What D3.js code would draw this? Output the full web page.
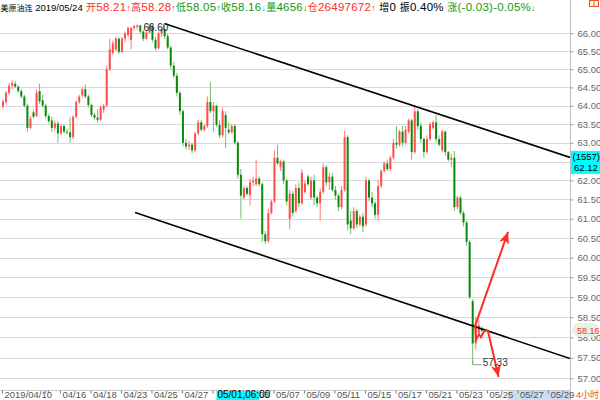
<!DOCTYPE html>
<html><head><meta charset="utf-8">
<script src="https://cdn.jsdelivr.net/npm/d3@7"></script>
<style>
body{margin:0;background:#fff;}
svg{display:block;}
.nar{font-family:"Liberation Sans Narrow","Arial Narrow","Liberation Sans",Arial,"Noto Sans CJK SC",sans-serif;}
.hdr{font-family:"Liberation Sans",Arial,sans-serif;}
.hdr .cjk{font-family:"Noto Sans CJK SC",sans-serif;}
</style></head><body>
<svg id="c" width="600" height="400"></svg>
<script>
// ---- data ----
const opens=[63.98,64.10,64.35,64.55,64.60,64.52,64.40,64.25,64.00,63.40,63.82,63.72,64.40,64.15,64.00,63.72,63.60,63.40,63.52,63.25,
63.45,63.30,63.28,63.15,63.70,64.10,64.28,64.45,64.25,64.02,63.75,63.68,63.62,63.90,64.00,65.00,65.45,65.55,65.85,65.48,
65.85,65.95,65.82,66.15,66.18,66.22,66.05,65.85,66.02,66.22,65.82,65.58,66.00,66.12,65.92,65.60,65.10,64.82,64.35,63.85,
63.00,62.90,62.95,62.80,63.25,63.55,63.35,63.45,64.10,63.85,64.00,63.48,63.20,63.75,63.35,63.28,63.45,63.00,62.15,61.55,
61.80,61.62,61.95,61.90,62.05,61.90,60.60,60.42,61.15,61.45,62.60,62.35,62.50,62.00,61.00,61.65,61.20,61.80,61.40,61.70,
62.10,61.55,62.00,61.55,61.40,61.70,62.35,61.95,62.10,61.75,61.60,61.30,61.75,63.15,60.95,60.75,61.20,60.85,61.05,60.85,
62.00,61.55,61.40,61.10,61.85,62.25,62.45,62.30,62.60,63.00,62.95,63.30,63.00,63.30,63.60,62.75,63.85,63.45,63.10,62.75,
63.10,63.40,63.55,63.10,62.80,63.30,62.75,62.55,62.60,61.30,61.55,61.15,60.90,60.40,58.90,57.85,58.12,58.21];
const highs=[64.18,64.40,64.62,64.70,64.68,64.56,64.45,64.30,64.05,63.72,63.88,64.45,64.60,64.30,64.05,63.78,63.70,63.60,63.58,63.50,
63.48,63.38,63.70,63.75,64.15,64.30,64.50,64.58,64.30,64.06,63.80,63.90,64.00,64.05,65.10,65.85,65.80,65.90,65.88,65.90,
66.05,66.20,66.18,66.24,66.25,66.24,66.10,66.10,66.28,66.24,65.90,66.05,66.15,66.22,66.00,65.65,65.20,64.90,64.40,63.90,
63.10,63.05,63.00,63.30,63.62,63.62,63.50,64.25,64.65,64.10,64.02,63.60,63.95,63.85,63.55,63.50,63.50,63.05,62.30,61.85,
61.85,62.05,62.10,62.55,62.10,61.95,60.68,61.25,61.50,62.80,62.95,62.55,62.55,62.05,61.75,61.72,61.90,61.95,62.30,62.00,
62.15,62.10,62.15,61.60,61.80,62.45,62.40,62.20,62.20,61.85,61.65,61.85,63.32,63.20,61.20,61.30,61.25,61.10,61.15,62.10,
62.05,61.70,61.45,62.00,62.30,62.50,62.55,62.65,63.10,63.45,63.35,63.45,63.45,63.65,63.65,64.00,63.90,63.55,63.15,63.20,
63.55,63.60,63.75,63.20,63.35,63.32,62.78,62.70,62.78,61.60,61.60,61.20,60.95,60.45,58.95,58.50,58.42,58.28];
const lows=[63.92,64.02,64.30,64.45,64.48,64.35,64.20,63.95,63.30,63.36,63.66,63.70,64.05,63.95,63.65,63.52,63.28,63.32,63.00,63.20,
63.25,63.22,63.00,63.10,63.65,64.05,64.22,64.20,63.95,63.70,63.62,63.55,63.58,63.80,63.95,64.95,65.40,65.50,65.42,65.45,
65.75,65.90,65.55,66.08,66.10,65.98,65.78,65.82,66.00,65.75,65.52,65.55,65.90,65.85,65.55,65.00,64.75,64.25,63.75,62.90,
62.82,62.80,62.72,62.75,63.20,63.30,63.30,63.40,63.80,63.30,63.42,63.12,63.15,62.85,63.22,63.25,62.95,62.05,61.00,61.50,
61.60,61.35,61.85,61.85,61.85,60.40,60.35,60.38,61.10,61.40,62.40,62.25,61.90,61.35,60.72,61.05,61.15,61.30,61.35,61.65,
61.85,61.50,61.35,61.30,60.95,61.65,61.85,61.75,61.70,61.50,61.20,61.25,61.70,60.70,60.60,60.70,60.75,60.80,60.65,60.80,
61.45,61.30,61.00,60.95,61.80,62.20,62.25,62.25,62.55,62.85,62.90,62.90,62.95,63.25,62.55,62.70,63.35,63.00,62.60,62.70,
63.05,63.35,63.00,62.90,62.75,62.65,62.50,62.35,61.20,61.25,61.10,60.80,60.30,58.95,57.33,57.70,58.08,58.05];
const closes=[64.12,64.35,64.55,64.62,64.52,64.40,64.25,64.00,63.40,63.65,63.70,64.35,64.12,64.00,63.72,63.58,63.40,63.52,63.25,63.45,
63.30,63.28,63.15,63.70,64.10,64.25,64.45,64.25,64.02,63.75,63.68,63.62,63.95,64.00,65.00,65.55,65.72,65.85,65.48,65.85,
66.00,66.15,66.15,66.20,66.22,66.05,65.85,66.02,66.22,65.82,65.58,66.00,66.12,65.92,65.60,65.10,64.82,64.35,63.85,63.00,
62.90,62.95,62.80,63.25,63.55,63.35,63.45,64.10,63.85,64.00,63.48,63.20,63.85,63.40,63.28,63.45,63.00,62.15,61.60,61.80,
61.65,61.95,62.00,62.05,61.90,60.60,60.42,61.15,61.45,62.60,62.45,62.50,62.00,61.45,61.65,61.15,61.80,61.40,62.20,61.92,
61.90,62.00,61.55,61.40,61.70,62.35,61.95,62.10,61.75,61.60,61.30,61.75,63.15,60.85,60.75,61.20,60.85,61.05,60.80,62.00,
61.55,61.40,61.10,61.85,62.25,62.45,62.30,62.60,63.00,62.95,63.30,63.00,63.35,63.60,62.75,63.85,63.45,63.10,62.75,63.10,
63.50,63.55,63.10,62.95,63.30,62.75,62.55,62.60,61.30,61.55,61.15,60.90,60.40,59.00,57.85,58.30,58.30,58.16];
const yTicks=[57,57.5,58,58.5,59,59.5,60,60.5,61,61.5,62,62.5,63,63.5,64,64.5,65,65.5,66];
const xTickIdx=[0,14,15,19,29,39,49,59,69,79,89,99,109,119,129,139,149,159,169,179];
const xTickLabels=["2019/04/10","","","04/16","04/18","04/23","04/25","04/27","","05/03","05/07","05/09","05/11","05/15","05/17","05/21","05/23","05/25","05/27","05/29"];
const headerName="美原油连", headerDate="2019/05/24";
const headerItems=["开58.21↑","高58.28↑","低58.05↑","收58.16↓","量4656↓","仓26497672↑"," 增0"," 振0.40%"," 涨(-0.03)-0.05%↓"];
const headerDir=["up","up","down","down","down","up","flat","flat","down"];
const maxLabel="66.60";
const crossDate="05/01,06:00", crossIdx=69;
const crossValue="62.12", crossCount="(1557)";
const periodLabel="4小时";
const upperChannel=[[53.1,66.27],[185.9,62.61]];
const lowerChannel=[[43.3,61.16],[185.9,57.48]];
const zigzag=[[154.8,58.29],[155.1,57.94],[156.1,58.08],[156.7,58.00],[157.6,58.13],[158.9,58.19]];
const arrowUp=[[154.8,58.29],[165.6,60.66]];
const arrowDown=[[158.9,58.19],[162.5,57.03]];
const futureStartIdx=165;

// ---- layout ----
const W=600,H=400, plotRight=570, axisY=390.5, N=186;
const svg=d3.select("#c");
const x=d3.scaleLinear().domain([0,N]).range([3,3+N*3.05]);
const y=d3.scaleLog().domain([57,66]).range([378.3,33.3]);
const RED="#ff2a2a", GREEN="#0a8a0a";

svg.append("defs").append("clipPath").attr("id","pc").append("rect").attr("x",0).attr("y",14).attr("width",plotRight).attr("height",axisY-14);
svg.select("defs").append("marker").attr("id","ah").attr("viewBox","0 0 12 10").attr("markerUnits","userSpaceOnUse")
  .attr("markerWidth",15).attr("markerHeight",10).attr("refX",12).attr("refY",5).attr("orient","auto")
  .append("path").attr("d","M0,0 L12,5 L0,10 L3,5 Z").attr("fill",RED);

const main=svg.append("g").attr("class","nar");

// gridlines
main.append("g").selectAll("line").data(yTicks).join("line")
  .attr("x1",0).attr("x2",plotRight).attr("y1",d=>Math.round(y(d))+0.5).attr("y2",d=>Math.round(y(d))+0.5)
  .attr("stroke","#d9d9d9").attr("stroke-width",1.2);

// candles
const bars=d3.range(closes.length).map(i=>({i,o:opens[i],h:highs[i],l:lows[i],c:closes[i]}));
const cg=main.append("g").attr("clip-path","url(#pc)");
cg.selectAll("line.w").data(bars).join("line").attr("class","w")
  .attr("x1",d=>x(d.i)).attr("x2",d=>x(d.i)).attr("y1",d=>y(d.h)).attr("y2",d=>y(d.l))
  .attr("stroke",d=>d.c>=d.o?"#ff7a7a":"#6fbf6f").attr("stroke-width",1);
cg.selectAll("rect.b").data(bars).join("rect").attr("class","b")
  .attr("x",d=>x(d.i)-1).attr("width",2)
  .attr("y",d=>y(Math.max(d.o,d.c))).attr("height",d=>Math.max(1,Math.abs(y(d.o)-y(d.c))))
  .attr("fill",d=>d.c>=d.o?"#ff4d4d":GREEN);

// channel lines
const ln=d3.line().x(d=>x(d[0])).y(d=>y(d[1]));
[upperChannel,lowerChannel].forEach(p=>cg.append("path").attr("d",ln(p)).attr("fill","none").attr("stroke","#000").attr("stroke-width",1.6));

// red arrows
cg.append("path").attr("d",ln(zigzag)).attr("fill","none").attr("stroke",RED).attr("stroke-width",1.8);
[arrowUp,arrowDown].forEach(p=>main.append("path").attr("d",ln(p)).attr("fill","none").attr("stroke",RED).attr("stroke-width",2).attr("marker-end","url(#ah)"));

// max / min labels
const maxI=d3.maxIndex(highs), minI=d3.minIndex(lows);
main.append("text").attr("x",x(maxI)-6).attr("y",y(highs[maxI])+8).attr("font-size",10).attr("fill","#222").text(maxLabel);
main.append("path").attr("d",`M${x(minI)},${y(lows[minI])-4}V${y(lows[minI])}H${x(minI)+9}`).attr("fill","none").attr("stroke","#999");
main.append("text").attr("x",x(minI)+10).attr("y",y(lows[minI])+1).attr("font-size",10).attr("fill","#333").text(d3.format(".2f")(lows[minI]));

// crosshair value box geometry
const vy=y(+crossValue), boxTop=vy-25, boxBot=vy-2;

// right axis
main.append("line").attr("x1",plotRight+0.5).attr("x2",plotRight+0.5).attr("y1",0).attr("y2",H).attr("stroke","#bdbdbd");
const ya=main.append("g").attr("transform",`translate(${plotRight+0.5},0)`)
  .call(d3.axisRight(y).tickValues(yTicks).tickFormat(d3.format(".2f")).tickSize(3).tickPadding(4));
ya.select(".domain").remove();
ya.attr("font-family",null);
ya.selectAll("line").attr("stroke","#999");
ya.selectAll("text").attr("fill","#666").attr("font-size",9.5);
ya.selectAll(".tick").filter(d=>y(d)>boxTop-3&&y(d)<boxBot).select("text").remove();

// bottom axis
main.append("rect").attr("x",x(futureStartIdx)+1.5).attr("y",axisY).attr("width",plotRight-x(futureStartIdx)-1.5).attr("height",H-axisY).attr("fill","#c9ddf3");
main.append("line").attr("x1",0).attr("x2",plotRight).attr("y1",axisY).attr("y2",axisY).attr("stroke","#c8c8c8");
const xa=main.append("g").attr("transform",`translate(0,${axisY})`)
  .call(d3.axisBottom(x).tickValues(xTickIdx).tickFormat((d,i)=>xTickLabels[i]).tickSize(3));
xa.select(".domain").remove();
xa.attr("font-family",null);
xa.selectAll("line").attr("stroke","#777").attr("transform","translate(-1,0)");
xa.selectAll("text").attr("text-anchor","start").attr("x",1).attr("y",0.5).attr("fill","#555").attr("font-size",9.5);

// crosshair date box
const cx0=x(crossIdx)+3;
main.append("rect").attr("x",cx0).attr("y",axisY+0.5).attr("width",43).attr("height",H-axisY).attr("fill","#00ffff");
main.append("text").attr("x",cx0+1).attr("y",398).attr("font-size",10).attr("fill","#000").text(crossDate);

// crosshair value box
main.append("rect").attr("x",plotRight+1).attr("y",boxTop).attr("width",W-plotRight-1).attr("height",boxBot-boxTop).attr("fill","#00ffff");
main.append("text").attr("x",plotRight+2.5).attr("y",vy-15.5).attr("font-size",9.5).attr("fill","#000").text(crossCount);
main.append("text").attr("x",plotRight+4).attr("y",vy-4.5).attr("font-size",9.5).attr("fill","#000").text(crossValue);

// last price pill
const lastC=closes[closes.length-1], ly=y(lastC);
main.append("rect").attr("x",plotRight+2).attr("y",ly-8).attr("width",W-plotRight-3).attr("height",14).attr("rx",7).attr("fill","#e4f3e4");
main.append("text").attr("x",plotRight+7).attr("y",ly+3).attr("font-size",9).attr("fill",RED).text(d3.format(".2f")(lastC));

// period label + icon
main.append("text").attr("x",plotRight+6).attr("y",398).attr("font-size",9).attr("fill","#e8541c").text(periodLabel);
main.append("rect").attr("x",589.5).attr("y",0.5).attr("width",9).attr("height",6).attr("fill","none").attr("stroke","#e8541c");
main.append("line").attr("x1",594).attr("x2",594).attr("y1",0.5).attr("y2",6.5).attr("stroke","#e8541c");

// header
function runs(t,str,color,latin,cjkSize,arrSize){
  str.split(/([\u3400-\u9fff]+|[\u2190-\u2193])/).forEach(s=>{ if(!s)return;
    const cjk=/[\u3400-\u9fff]/.test(s), arr=/[\u2190-\u2193]/.test(s);
    const sp=t.append("tspan").attr("fill",color).attr("font-size",cjk?cjkSize:arr?arrSize:latin).text(s);
    if(cjk) sp.attr("class","cjk");});
}
const h1=svg.append("text").attr("class","hdr").attr("x",0.5).attr("y",11);
runs(h1,headerName+" ","#000",9.5,8,8);
runs(h1,headerDate,"#000",9.5,8,8);
const h2=svg.append("text").attr("class","hdr").attr("x",86).attr("y",11).attr("letter-spacing",0.25);
headerItems.forEach((s,k)=>runs(h2,s, headerDir[k]==="up"?RED:headerDir[k]==="down"?"#119911":"#000",11.5,10,9));
</script></body></html>
